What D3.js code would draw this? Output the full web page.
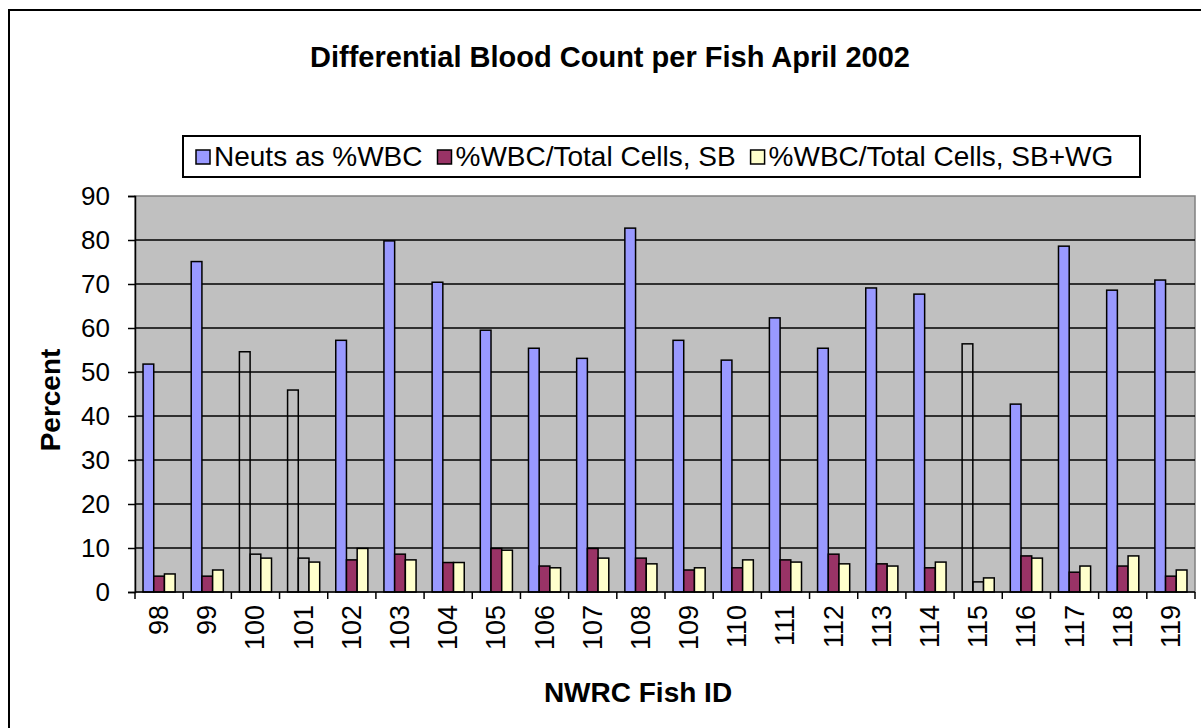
<!DOCTYPE html>
<html>
<head>
<meta charset="utf-8">
<script src="https://cdn.jsdelivr.net/npm/d3@7"></script>
<style>
  body { margin: 0; background: #fff; }
  text { font-family: Arial, "Liberation Sans", sans-serif; }
</style>
</head>
<body>
<div id="chart"></div>
<script>
// fish ids on the x axis
const fishIds = ["98","99","100","101","102","103","104","105","106","107","108",
                 "109","110","111","112","113","114","115","116","117","118","119"];
const seriesNames = ["Neuts as %WBC", "%WBC/Total Cells, SB", "%WBC/Total Cells, SB+WG"];
const neuts = [51.8, 75.1, 54.6, 45.9, 57.2, 79.8, 70.4, 59.5, 55.4, 53.1, 82.7,
               57.2, 52.7, 62.3, 55.4, 69.1, 67.7, 56.4, 42.7, 78.6, 68.6, 70.9];
const wbcSB = [3.6, 3.6, 8.6, 7.7, 7.3, 8.6, 6.7, 9.9, 5.9, 9.9, 7.7,
               5.0, 5.5, 7.3, 8.6, 6.4, 5.5, 2.3, 8.2, 4.5, 5.9, 3.6];
const wbcSBWG = [4.1, 5.0, 7.7, 6.8, 9.9, 7.3, 6.7, 9.5, 5.5, 7.7, 6.4,
                 5.5, 7.3, 6.8, 6.4, 5.9, 6.8, 3.2, 7.7, 5.9, 8.2, 5.0];
// fish whose first two bars are drawn without fill in the original
const unfilledIds = ["100", "101", "115"];
const yTicks = [0, 10, 20, 30, 40, 50, 60, 70, 80, 90];

const W = 1201, H = 728;
const plot = {left: 135, right: 1195, top: 196, bottom: 592};
const colors = ["#9999FF", "#993366", "#FFFFCC"];

const svg = d3.select("#chart").append("svg")
    .attr("width", W).attr("height", H);

// outer chart frame
svg.append("rect")
    .attr("x", 9).attr("y", 10)
    .attr("width", W).attr("height", H)
    .attr("fill", "#fff").attr("stroke", "#000").attr("stroke-width", 2);

const x = d3.scaleBand().domain(fishIds).range([plot.left, plot.right]);
const barW = x.bandwidth() / 4.5;
const x1 = d3.scaleBand().domain(seriesNames)
    .range([barW * 0.75, barW * 3.75]);
const y = d3.scaleLinear().domain([0, 90]).range([plot.bottom, plot.top]);

// plot background
svg.append("rect")
    .attr("x", plot.left).attr("y", plot.top)
    .attr("width", plot.right - plot.left).attr("height", plot.bottom - plot.top)
    .attr("fill", "#C0C0C0").attr("stroke", "#808080").attr("stroke-width", 1.5);

// gridlines
svg.append("g").selectAll("line")
    .data(yTicks.filter(d => d > 0 && d < 90))
    .join("line")
    .attr("x1", plot.left).attr("x2", plot.right)
    .attr("y1", d => y(d)).attr("y2", d => y(d))
    .attr("stroke", "#000").attr("stroke-width", 1.5);

// bars
const table = fishIds.map((id, i) => ({id: id, vals: [neuts[i], wbcSB[i], wbcSBWG[i]]}));
const groups = svg.append("g").selectAll("g")
    .data(table)
    .join("g")
    .attr("transform", d => `translate(${x(d.id)},0)`);
groups.selectAll("rect")
    .data(d => d.vals.map((v, k) => ({id: d.id, k: k, v: v})))
    .join("rect")
    .attr("x", d => x1(seriesNames[d.k]))
    .attr("width", x1.bandwidth())
    .attr("y", d => y(d.v))
    .attr("height", d => y(0) - y(d.v))
    .attr("fill", d => (d.k < 2 && unfilledIds.includes(d.id)) ? "none" : colors[d.k])
    .attr("stroke", "#000").attr("stroke-width", 1.5);

// y axis
const yAxis = svg.append("g")
    .attr("transform", `translate(${plot.left},0)`)
    .call(d3.axisLeft(y).tickValues(yTicks).tickSize(7).tickPadding(18));
yAxis.select(".domain").attr("stroke", "#000").attr("stroke-width", 1.5);
yAxis.selectAll(".tick line").attr("stroke-width", 1.5);
yAxis.selectAll("text").attr("font-size", "26px").attr("fill", "#000")
    .style("font-family", "Arial, 'Liberation Sans', sans-serif");

// x axis: ticks between categories
const xAxis = svg.append("g");
xAxis.append("line")
    .attr("x1", plot.left).attr("x2", plot.right)
    .attr("y1", plot.bottom).attr("y2", plot.bottom)
    .attr("stroke", "#000").attr("stroke-width", 1.5);
xAxis.selectAll(".sep")
    .data(fishIds.concat(["end"]))
    .join("line")
    .attr("x1", (d, i) => plot.left + i * x.bandwidth())
    .attr("x2", (d, i) => plot.left + i * x.bandwidth())
    .attr("y1", plot.bottom).attr("y2", plot.bottom + 7)
    .attr("stroke", "#000").attr("stroke-width", 1.5);
xAxis.selectAll(".lbl")
    .data(fishIds)
    .join("text")
    .attr("transform", d => `translate(${x(d) + x.bandwidth() / 2 + 9},${plot.bottom + 13}) rotate(-90)`)
    .attr("text-anchor", "end")
    .attr("font-size", "27px")
    .text(d => d);

// titles
svg.append("text")
    .attr("x", 610).attr("y", 67)
    .attr("text-anchor", "middle")
    .attr("font-size", "29px").attr("font-weight", "bold")
    .text("Differential Blood Count per Fish April 2002");

svg.append("text")
    .attr("x", 638).attr("y", 702)
    .attr("text-anchor", "middle")
    .attr("font-size", "28px").attr("font-weight", "bold")
    .text("NWRC Fish ID");

svg.append("text")
    .attr("transform", "translate(60,400) rotate(-90)")
    .attr("text-anchor", "middle")
    .attr("font-size", "28px").attr("font-weight", "bold")
    .text("Percent");

// legend
const legend = svg.append("g");
legend.append("rect")
    .attr("x", 183).attr("y", 136)
    .attr("width", 957).attr("height", 41)
    .attr("fill", "#fff").attr("stroke", "#000").attr("stroke-width", 2);
let lx = 196;
seriesNames.forEach((name, k) => {
    legend.append("rect")
        .attr("x", lx).attr("y", 150)
        .attr("width", 14).attr("height", 14)
        .attr("fill", colors[k]).attr("stroke", "#000").attr("stroke-width", 1.5);
    const t = legend.append("text")
        .attr("x", lx + 18).attr("y", 166)
        .attr("font-size", "28px")
        .text(name);
    lx += 18 + t.node().getComputedTextLength() + 15;
});
</script>
</body>
</html>
